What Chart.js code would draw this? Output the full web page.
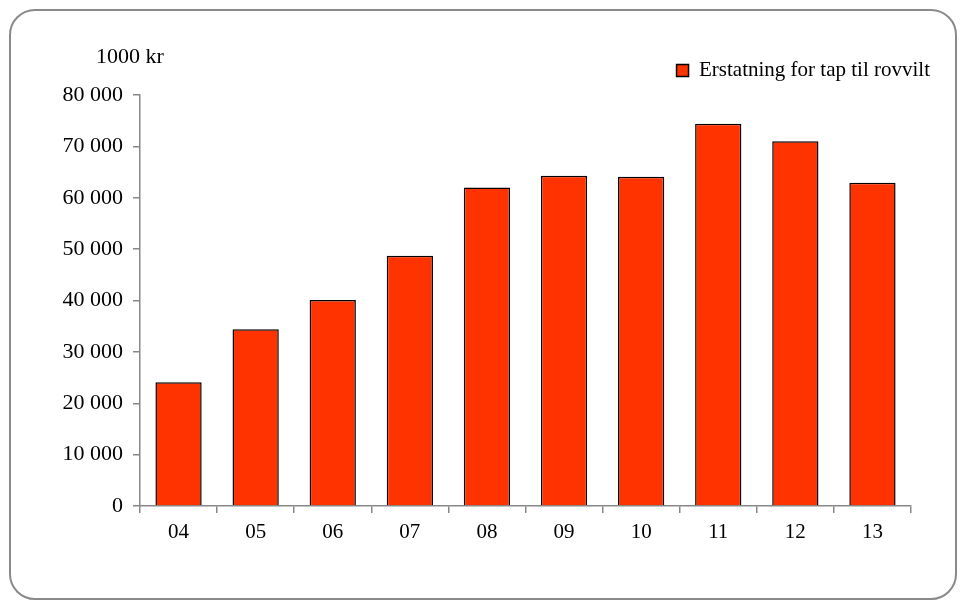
<!DOCTYPE html>
<html>
<head>
<meta charset="utf-8">
<script src="https://cdn.jsdelivr.net/npm/chart.js@4"></script>
<style>
  body { margin: 0; background: #fff; }
  #wrap { position: relative; width: 966px; height: 608px; }
  #frame {
    position: absolute; left: 9px; top: 9px; width: 948px; height: 591px;
    box-sizing: border-box; border: 2px solid #8a8a8a; border-radius: 26px;
    pointer-events: none;
  }
</style>
</head>
<body>
<div id="wrap">
  <canvas id="chart" width="966" height="608"></canvas>
  <div id="frame"></div>
</div>
<script>
const years = ['04', '05', '06', '07', '08', '09', '10', '11', '12', '13'];
const compensation = [24100, 34400, 40100, 48700, 62000, 64300, 64100, 74400, 71000, 62900];
const seriesName = 'Erstatning for tap til rovvilt';
const unitLabel = '1000 kr';

function formatThousands(v) {
    return String(v).replace(/\B(?=(\d{3})+(?!\d))/g, ' ');
}

// draws the unit text above the y axis
const unitText = {
    id: 'unitText',
    afterDraw(chart) {
        const ctx = chart.ctx;
        ctx.save();
        ctx.font = '22px "Liberation Serif"';
        ctx.fillStyle = '#000';
        ctx.textAlign = 'left';
        ctx.textBaseline = 'middle';
        ctx.fillText(unitLabel, chart.chartArea.left - 44, chart.chartArea.top - 38);
        ctx.restore();
    }
};

// empty axes used only as spacers around the plot
const blankAxis = (pos, size) => ({
    position: pos,
    afterFit(scale) {
        if (scale.isHorizontal()) scale.height = size;
        else scale.width = size;
    },
    grid: { display: false },
    border: { display: false },
    ticks: { display: false }
});

const ctx = document.getElementById('chart');
new Chart(ctx, {
    type: 'bar',
    data: {
        labels: years,
        datasets: [{
            label: seriesName,
            data: compensation,
            backgroundColor: '#ff3300',
            borderColor: '#000',
            borderWidth: 1.5,
            categoryPercentage: 1,
            barPercentage: 0.6
        }]
    },
    options: {
        responsive: false,
        devicePixelRatio: 1,
        animation: false,
        layout: {
            padding: { top: 48, right: 24, bottom: 0, left: 0 }
        },
        plugins: {
            legend: {
                position: 'top',
                align: 'end',
                labels: {
                    boxWidth: 12,
                    boxHeight: 12,
                    padding: 12,
                    color: '#000',
                    font: { family: 'Liberation Serif', size: 21 }
                }
            },
            tooltip: { enabled: false }
        },
        scales: {
            x: {
                afterFit(scale) { scale.height = 102; },
                grid: { drawOnChartArea: false, tickLength: 7, color: '#888', lineWidth: 1.5 },
                border: { color: '#888', width: 1.5 },
                ticks: {
                    padding: 7,
                    color: '#000',
                    font: { family: 'Liberation Serif', size: 21 }
                }
            },
            y: {
                min: 0,
                max: 80000,
                afterFit(scale) { scale.width = 140; },
                grid: { drawOnChartArea: false, tickLength: 7, color: '#888', lineWidth: 1.5 },
                border: { color: '#888', width: 1.5 },
                ticks: {
                    stepSize: 10000,
                    padding: 10,
                    color: '#000',
                    font: { family: 'Liberation Serif', size: 22 },
                    callback: (v) => formatThousands(v)
                }
            },
            gapTop: blankAxis('top', 4),
            gapRight: blankAxis('right', 31)
        }
    },
    plugins: [unitText]
});
</script>
</body>
</html>
